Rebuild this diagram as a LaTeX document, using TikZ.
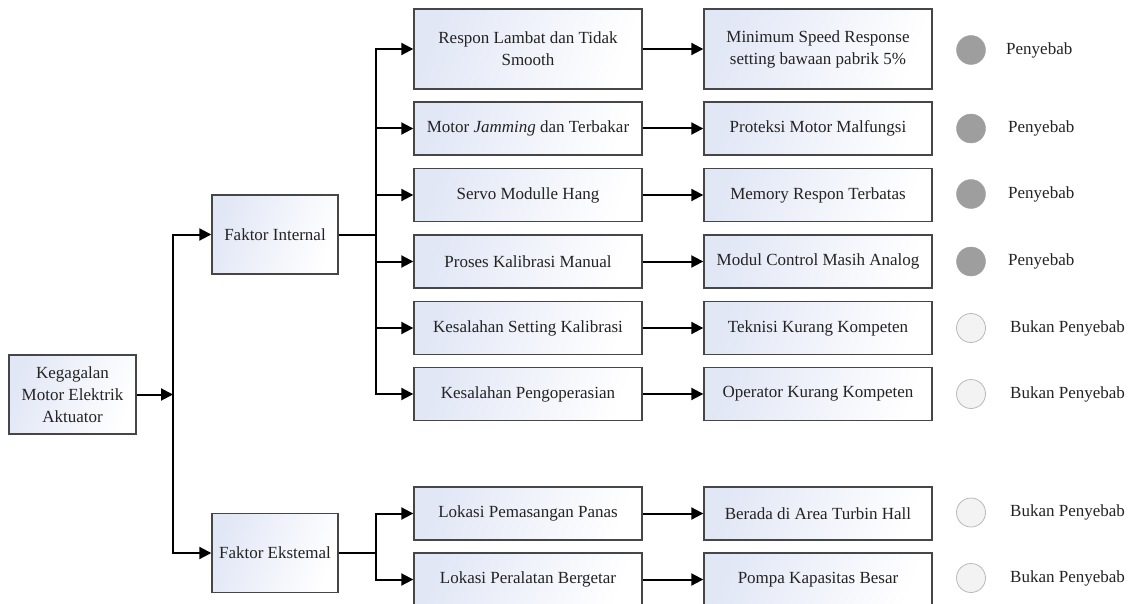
\documentclass[tikz,border=0pt]{standalone}
\usepackage{fontspec}
\setmainfont{Liberation Serif}
\usetikzlibrary{arrows.meta}
\definecolor{boxblue}{RGB}{226,231,246}
\definecolor{boxline}{RGB}{70,70,70}
\definecolor{darkdot}{RGB}{158,158,158}
\definecolor{lightdot}{RGB}{243,243,243}
\definecolor{dotline}{RGB}{185,185,185}
\definecolor{txt}{RGB}{35,35,35}
\begin{document}
\begin{tikzpicture}[x=1pt,y=-1pt,
  box/.style={draw=boxline, line width=1.4pt, left color=boxblue, right color=white,
    shading angle=70,
    align=center, inner sep=0pt, text=txt, font=\fontsize{17}{22}\selectfont},
  rootbox/.style={box, minimum width=127pt, minimum height=79pt},
  factbox/.style={box, minimum width=126pt, minimum height=79pt},
  causebox/.style={box, minimum width=228pt, minimum height=53pt},
  tallbox/.style={box, minimum width=228pt, minimum height=80pt},
  conn/.style={line width=2pt, black},
  arr/.style={conn, -{Triangle[length=12pt,width=12pt]}},
  dotyes/.style={circle, fill=darkdot, draw=darkdot, minimum size=29pt, inner sep=0pt},
  dotno/.style={circle, fill=lightdot, draw=dotline, line width=0.8pt, minimum size=29pt, inner sep=0pt},
  verdict/.style={anchor=west, inner sep=0pt, text=txt, font=\fontsize{17}{22}\selectfont}
]
\useasboundingbox (0,0) rectangle (1131,604);

% root and factors
\node[rootbox] (root) at (72.5,394.5) {Kegagalan\\Motor Elektrik\\Aktuator};
\node[factbox] (fi) at (275,234.5) {Faktor Internal};
\node[factbox] (fe) at (275,553) {Faktor Ekstemal};

% first column
\node[tallbox]  (a1) at (528,49)    {Respon Lambat dan Tidak\\Smooth};
\node[causebox] (a2) at (528,128.5) {Motor \textit{Jamming} dan Terbakar};
\node[causebox] (a3) at (528,195)   {Servo Modulle Hang};
\node[causebox] (a4) at (528,261.5) {Proses Kalibrasi Manual};
\node[causebox] (a5) at (528,328)   {Kesalahan Setting Kalibrasi};
\node[causebox] (a6) at (528,394)   {Kesalahan Pengoperasian};
\node[causebox] (a7) at (528,513.5) {Lokasi Pemasangan Panas};
\node[causebox] (a8) at (528,579.5) {Lokasi Peralatan Bergetar};

% second column
\node[tallbox]  (b1) at (818,49)    {Minimum Speed Response\\setting bawaan pabrik 5\%};
\node[causebox] (b2) at (818,128.5) {Proteksi Motor Malfungsi};
\node[causebox] (b3) at (818,195)   {Memory Respon Terbatas};
\node[causebox] (b4) at (818,261.5) {Modul Control Masih Analog};
\node[causebox] (b5) at (818,328)   {Teknisi Kurang Kompeten};
\node[causebox] (b6) at (818,394)   {Operator Kurang Kompeten};
\node[causebox] (b7) at (818,513.5) {Berada di Area Turbin Hall};
\node[causebox] (b8) at (818,579.5) {Pompa Kapasitas Besar};

% verdict dots and labels
\node[dotyes] (d1) at (971,50)    {};
\node[dotyes] (d2) at (971,128.5) {};
\node[dotyes] (d3) at (971,194)   {};
\node[dotyes] (d4) at (971,261.5) {};
\node[dotno]  (d5) at (971,328)   {};
\node[dotno]  (d6) at (971,394)   {};
\node[dotno]  (d7) at (971,512.5) {};
\node[dotno]  (d8) at (971,578)   {};

\node[verdict] (v1) at (1006,50)    {Penyebab};
\node[verdict] (v2) at (1008,128.5) {Penyebab};
\node[verdict] (v3) at (1008,194)   {Penyebab};
\node[verdict] (v4) at (1008,261.5) {Penyebab};
\node[verdict] (v5) at (1010,328)   {Bukan Penyebab};
\node[verdict] (v6) at (1010,394)   {Bukan Penyebab};
\node[verdict] (v7) at (1010,512.5) {Bukan Penyebab};
\node[verdict] (v8) at (1010,578)   {Bukan Penyebab};

% junctions
\coordinate (j0) at (173,394.5);
\coordinate (j1) at (376,234.5);
\coordinate (j2) at (376,553);

% connectors
\draw[arr] (root.east) -- (j0);
\draw[arr] (j0) |- (fi.west);
\draw[arr] (j0) |- (fe.west);

\draw[conn] (fi.east) -- (j1);
\foreach \i in {1,...,6} { \draw[arr] (j1) |- (a\i.west); }
\draw[conn] (fe.east) -- (j2);
\foreach \i in {7,8} { \draw[arr] (j2) |- (a\i.west); }

\foreach \i in {1,...,8} { \draw[arr] (a\i.east) -- (b\i.west); }
\end{tikzpicture}
\end{document}
